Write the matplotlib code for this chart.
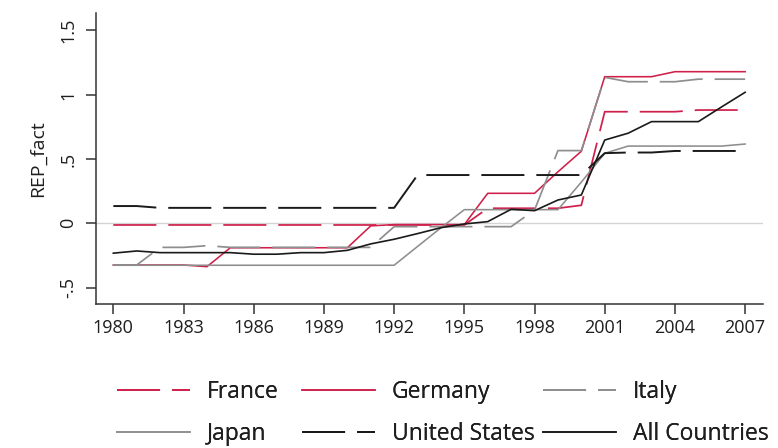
import matplotlib
matplotlib.use("Agg")
import matplotlib.pyplot as plt
import numpy as np

plt.rcParams['font.family'] = ['Open Sans', 'DejaVu Sans']
plt.rcParams['lines.scale_dashes'] = False

years = list(range(1980, 2008))

france = [-0.013]*16 + [0.117]*4 + [0.14] + [0.867]*4 + [0.88]*3
germany = [-0.324]*4 + [-0.337] + [-0.19]*6 + [-0.02] + [-0.01]*4 + [0.233]*3 + [0.40, 0.56] + [1.139]*3 + [1.178]*4
italy = [-0.324, -0.324, -0.187, -0.187, -0.174] + [-0.187]*7 + [-0.026]*6 + [0.103, 0.565, 0.565, 1.134, 1.10, 1.10, 1.10, 1.12, 1.12, 1.12]
japan = [-0.326]*13 + [-0.18, -0.035] + [0.106]*5 + [0.32, 0.544] + [0.60]*5 + [0.616]
usa = [0.134, 0.134] + [0.12]*11 + [0.375]*8 + [0.545, 0.55, 0.55] + [0.562]*4
allc = [-0.232, -0.215, -0.228, -0.228, -0.228, -0.228, -0.24, -0.24, -0.228, -0.228,
        -0.21, -0.16, -0.124, -0.08, -0.034, -0.005, 0.013, 0.109, 0.098, 0.181,
        0.22, 0.647, 0.70, 0.79, 0.79, 0.79, 0.905, 1.018]

labels = ["France", "Germany", "Italy", "Japan", "United States", "All Countries"]
xticks = list(range(1980, 2008, 3))
yticks = [-0.5, 0, 0.5, 1, 1.5]
yticklabels = ["-.5", "0", ".5", "1", "1.5"]

RED = '#cf1f4a'
GRAY = '#8e8e8e'
BLACK = '#1a1a1a'
DASH = (0, (31, 8.6))

fig = plt.figure(figsize=(7.78, 4.48), dpi=100)
ax = fig.add_axes([96/778, 1-304/448, (762.7-96)/778, (304-13)/448])

ax.axhline(0, color='#d4d4d4', lw=1.0, zorder=0)

styles = [
    dict(color=RED, ls=DASH, lw=1.25),
    dict(color=RED, ls='-', lw=1.15),
    dict(color=GRAY, ls=DASH, lw=1.25),
    dict(color=GRAY, ls='-', lw=1.15),
    dict(color=BLACK, ls=DASH, lw=1.4),
    dict(color=BLACK, ls='-', lw=1.2),
]
series = [france, germany, italy, japan, usa, allc]
handles = []
for s, st, lab in zip(series, styles, labels):
    h, = ax.plot(years, s, label=lab, **st)
    handles.append(h)

ax.set_xlim(1979.26, 2007.75)
ax.set_ylim(-0.627, 1.634)
ax.set_xticks(xticks)
ax.set_yticks(yticks)
ax.set_yticklabels(yticklabels, rotation=90, va='center')
for side in ['top', 'right']:
    ax.spines[side].set_visible(False)
for side in ['left', 'bottom']:
    ax.spines[side].set_color('#333333')
    ax.spines[side].set_linewidth(1.1)
ax.tick_params(axis='both', colors='#333333', labelcolor='#1e1e1e', length=7.5, width=1.1, labelsize=13)
ax.tick_params(axis='x', pad=3)
ax.tick_params(axis='y', pad=6)
ax.set_ylabel("REP_fact", fontsize=14, color='#1e1e1e', labelpad=9)

cols = [(117, [0, 3]), (302, [1, 4]), (543, [2, 5])]
for xpix, idx in cols:
    leg = fig.legend([handles[i] for i in idx], [labels[i] for i in idx],
                     loc='center left', bbox_to_anchor=(xpix/778, 1-413/448),
                     frameon=False, borderpad=0, borderaxespad=0,
                     handlelength=3.2, handletextpad=0.72, labelspacing=0.75,
                     fontsize=16.5)
    for t in leg.get_texts():
        t.set_color('#1e1e1e')
    fig.add_artist(leg)

fig.savefig("out.png", dpi=100)
